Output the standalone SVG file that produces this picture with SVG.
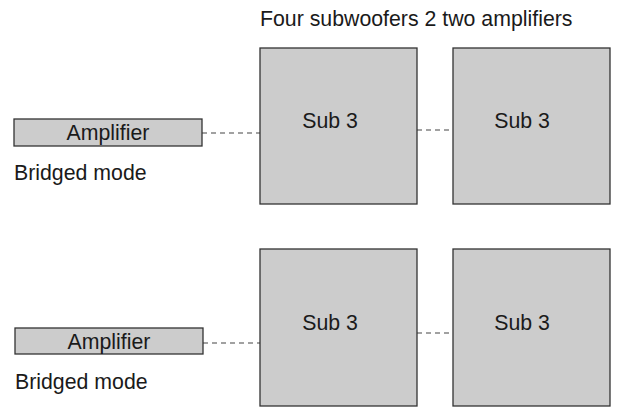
<svg xmlns="http://www.w3.org/2000/svg" width="618" height="407" viewBox="0 0 618 407">
<style>
.box{fill:#cccccc;stroke:#333333;stroke-width:1.3}
.t{font-family:"Liberation Sans",Arial,sans-serif;font-size:21.3px;fill:#1a1a1a}
.c{fill:none;stroke:#444444;stroke-width:1.2;stroke-dasharray:5,4}
</style>
<rect width="618" height="407" fill="#ffffff"/>
<text class="t" x="260" y="26">Four subwoofers 2 two amplifiers</text>
<g id="connectors">
<line class="c" x1="202" y1="133" x2="260" y2="133"/>
<line class="c" x1="417" y1="130" x2="453" y2="130"/>
<line class="c" x1="203" y1="343" x2="260" y2="343"/>
<line class="c" x1="417" y1="333" x2="453" y2="333"/>
</g>
<g id="amp1">
<rect class="box" x="14" y="119" width="188" height="27"/>
<text class="t" x="108" y="140" text-anchor="middle">Amplifier</text>
<text class="t" x="14" y="180">Bridged mode</text>
</g>
<g id="amp2">
<rect class="box" x="15" y="328" width="188" height="26"/>
<text class="t" x="109" y="348.5" text-anchor="middle">Amplifier</text>
<text class="t" x="15" y="389">Bridged mode</text>
</g>
<g id="sub1">
<rect class="box" x="260" y="48" width="157" height="156"/>
<text class="t" x="330" y="128" text-anchor="middle">Sub 3</text>
</g>
<g id="sub2">
<rect class="box" x="453" y="48" width="157" height="156"/>
<text class="t" x="522" y="128" text-anchor="middle">Sub 3</text>
</g>
<g id="sub3">
<rect class="box" x="260" y="249" width="157" height="157"/>
<text class="t" x="330" y="330" text-anchor="middle">Sub 3</text>
</g>
<g id="sub4">
<rect class="box" x="453" y="249" width="157" height="157"/>
<text class="t" x="522" y="330" text-anchor="middle">Sub 3</text>
</g>
</svg>
